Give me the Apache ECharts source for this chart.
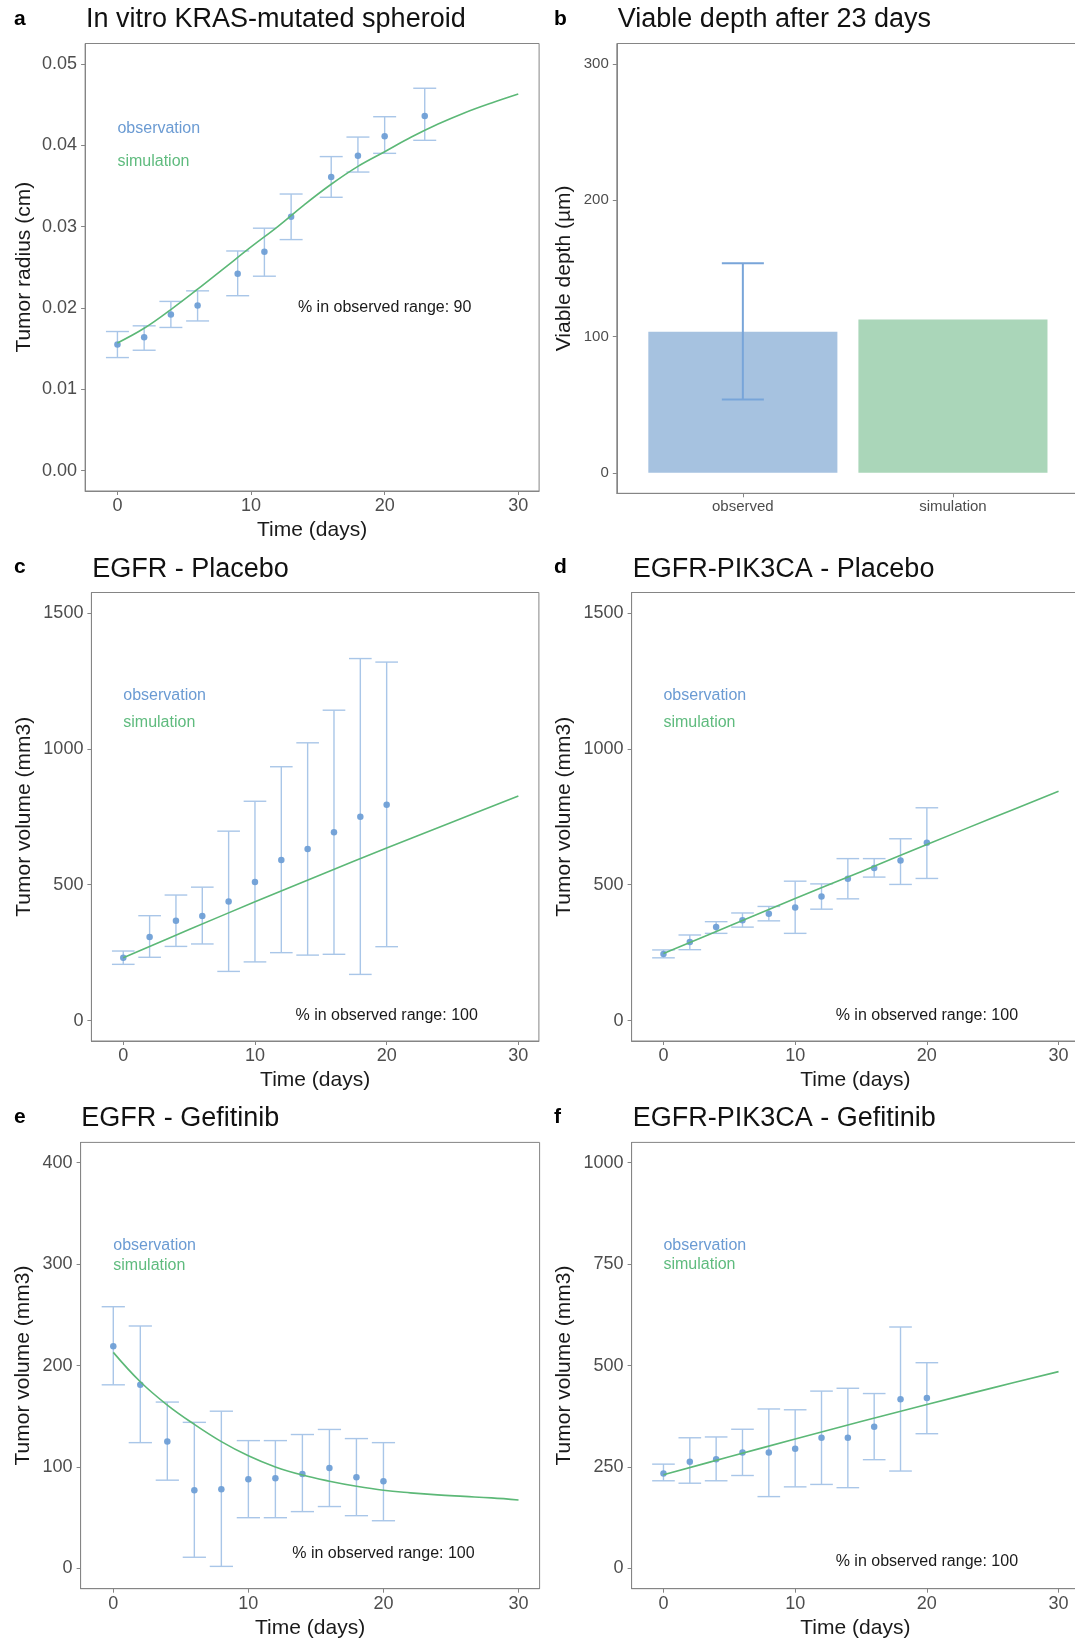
<!DOCTYPE html>
<html>
<head>
<meta charset="utf-8">
<script src="https://cdn.jsdelivr.net/npm/echarts@6/dist/echarts.min.js"></script>
<style>
  html, body { margin: 0; padding: 0; background: #ffffff; overflow: hidden; }
  /* the right-hand panels run a little past the page edge, so the canvas is wider than the page */
  #chart { width: 1095px; height: 1641px; }
</style>
</head>
<body>
<div id="chart"></div>
<script>
// ---------- data ----------
// a: in vitro KRAS-mutated spheroid radius (cm)
const daysA = [0, 2, 4, 6, 9, 11, 13, 16, 18, 20, 23];
const obsA  = [0.0155, 0.0164, 0.0192, 0.0203, 0.0242, 0.0269, 0.0312, 0.0361, 0.0387, 0.0411, 0.0436];
const loA   = [0.0139, 0.0148, 0.0176, 0.0184, 0.0215, 0.0239, 0.0284, 0.0336, 0.0367, 0.0390, 0.0406];
const hiA   = [0.0171, 0.0178, 0.0208, 0.0221, 0.0270, 0.0298, 0.0340, 0.0386, 0.0410, 0.0435, 0.0470];
const simDaysA = [0, 2, 4, 6, 8, 10, 12, 14, 16, 18, 20, 22, 24, 26, 28, 30];
const simA     = [0.0157, 0.0175, 0.0198, 0.0223, 0.0249, 0.0275, 0.0300, 0.0327, 0.0352, 0.0374, 0.0392, 0.0410, 0.0426, 0.0440, 0.0452, 0.0463];

// b: viable depth after 23 days (µm)
const depthCategories = ['observed', 'simulation'];
const depthValues     = [103.5, 112.6];
const depthObsLo      = 53.8;
const depthObsHi      = 153.8;

// c-f: xenograft tumour volume (mm3)
const daysXeno = [0, 2, 4, 6, 8, 10, 12, 14, 16, 18, 20];

const obsC = [231, 308, 367, 385, 438, 510, 591, 631, 693, 750, 794];
const loC  = [207, 233, 273, 282, 181, 216, 250, 241, 244, 170, 272];
const hiC  = [256, 386, 462, 491, 697, 807, 934, 1022, 1142, 1332, 1319];
const simDaysC = [0, 5, 10, 15, 20, 25, 30];
const simC     = [231, 335, 437, 537, 635, 731, 826];

const obsD = [245, 289, 344, 369, 393, 416, 457, 522, 561, 589, 654];
const loD  = [231, 261, 321, 344, 367, 321, 410, 448, 528, 501, 523];
const hiD  = [260, 315, 364, 396, 420, 513, 503, 596, 596, 669, 783];
const simDaysD = [0, 5, 10, 15, 20, 25, 30];
const simD     = [247, 348, 449, 548, 648, 746, 844];

const obsE = [219, 181, 125, 77, 78, 88, 89, 93, 99, 90, 86];
const loE  = [181, 124, 87, 11, 2, 50, 50, 56, 61, 52, 47];
const hiE  = [258, 239, 164, 144, 155, 126, 126, 132, 137, 128, 124];
const simDaysE = [0, 2, 4, 6, 8, 10, 12, 14, 16, 18, 20, 22, 24, 26, 28, 30];
const simE     = [213, 184, 161, 142, 125, 111, 100, 92, 86, 81, 77, 74.5, 72.5, 71, 69.5, 67.5];

const obsF = [234, 263, 269, 286, 286, 295, 322, 322, 349, 417, 420];
const loF  = [216, 210, 216, 229, 177, 201, 207, 199, 268, 240, 332];
const hiF  = [257, 322, 324, 343, 393, 391, 437, 444, 431, 595, 507];
const simDaysF = [0, 5, 10, 15, 20, 25, 30];
const simF     = [231, 275, 319, 362, 404, 445, 485];

const timeTicks = [0, 10, 20, 30];
const radiusTicks = [0, 0.01, 0.02, 0.03, 0.04, 0.05];
const depthTicks = [0, 100, 200, 300];
const placeboTicks = [0, 500, 1000, 1500];
const gefEgfrTicks = [0, 100, 200, 300, 400];
const gefPikTicks = [0, 250, 500, 750, 1000];

const inRangeA = 90, inRangeC = 100, inRangeD = 100, inRangeE = 100, inRangeF = 100;

// ---------- styling ----------
const FONT = "'Liberation Sans', Arial, Helvetica, sans-serif";
const OBS_BLUE = '#6f9fd6';
const BAR_BLUE = '#a9c6e8';
const SIM_GREEN = '#5cb877';
const FRAME = '#858585';
const TICK_TEXT = '#4d4d4d';
const CAP = 0.86;

const grids = [], xAxes = [], yAxes = [], series = [];

function addPanel(cfg) {
  const i = grids.length;
  grids.push({
    left: cfg.left, top: cfg.top, width: cfg.width, height: cfg.height,
    show: true, borderColor: FRAME, borderWidth: 1, containLabel: false
  });
  xAxes.push({
    gridIndex: i, type: 'value', min: cfg.xMin, max: cfg.xMax,
    name: cfg.xName, nameLocation: 'middle', nameGap: cfg.xNameGap, nameMoveOverlap: false,
    nameTextStyle: { fontSize: 21, color: '#1a1a1a', fontFamily: FONT },
    axisLine: { show: true, onZero: false, lineStyle: { color: FRAME, width: 1 } },
    axisTick: { show: true, length: 4, customValues: cfg.xTicks, lineStyle: { color: FRAME } },
    axisLabel: { customValues: cfg.xTicks, fontSize: cfg.tickFont, color: TICK_TEXT, margin: 6,
                 fontFamily: FONT, formatter: cfg.xFormat || (v => String(v)) },
    splitLine: { show: false }
  });
  yAxes.push({
    gridIndex: i, type: 'value', min: cfg.yMin, max: cfg.yMax,
    name: cfg.yName, nameLocation: 'middle', nameGap: cfg.yNameGap, nameRotate: 90, nameMoveOverlap: false,
    nameTextStyle: { fontSize: 21, color: '#1a1a1a', fontFamily: FONT },
    axisLine: { show: true, onZero: false, lineStyle: { color: FRAME, width: 1 } },
    axisTick: { show: true, length: 4, customValues: cfg.yTicks, lineStyle: { color: FRAME } },
    axisLabel: { customValues: cfg.yTicks, fontSize: cfg.tickFont, color: TICK_TEXT, margin: 8,
                 fontFamily: FONT, formatter: cfg.yFormat || (v => String(v)) },
    splitLine: { show: false }
  });
  return i;
}

function errorBars(i, xs, lo, hi, halfWidth, color, width) {
  return {
    type: 'custom', xAxisIndex: i, yAxisIndex: i, z: 2, silent: true,
    data: xs.map((x, k) => [x, lo[k], hi[k]]),
    encode: { x: 0, y: [1, 2] },
    renderItem: function (params, api) {
      const x = api.value(0), l = api.value(1), h = api.value(2);
      const top = api.coord([x, h]), bot = api.coord([x, l]);
      const tl = api.coord([x - halfWidth, h]), tr = api.coord([x + halfWidth, h]);
      const bl = api.coord([x - halfWidth, l]), br = api.coord([x + halfWidth, l]);
      const st = { stroke: color, lineWidth: width };
      return { type: 'group', children: [
        { type: 'line', shape: { x1: top[0], y1: top[1], x2: bot[0], y2: bot[1] }, style: st },
        { type: 'line', shape: { x1: tl[0], y1: tl[1], x2: tr[0], y2: tr[1] }, style: st },
        { type: 'line', shape: { x1: bl[0], y1: bl[1], x2: br[0], y2: br[1] }, style: st }
      ] };
    }
  };
}

function textMark(i, x, y, text, color, align) {
  return {
    type: 'custom', xAxisIndex: i, yAxisIndex: i, z: 5, silent: true,
    data: [[x, y]], encode: { x: 0, y: 1 }, clip: false,
    renderItem: function (params, api) {
      const p = api.coord([api.value(0), api.value(1)]);
      return { type: 'text', x: p[0], y: p[1],
        style: { text: text, fill: color, font: '16px ' + FONT, align: align, verticalAlign: 'middle' } };
    }
  };
}

function linePanel(cfg, days, obs, lo, hi, simDays, sim, inRange, labels) {
  const i = addPanel(cfg);
  series.push(errorBars(i, days, lo, hi, CAP, BAR_BLUE, 1.4));
  series.push({
    type: 'scatter', xAxisIndex: i, yAxisIndex: i, z: 3, symbolSize: 6.5,
    itemStyle: { color: OBS_BLUE, opacity: 0.95 },
    data: days.map((d, k) => [d, obs[k]])
  });
  series.push({
    type: 'line', xAxisIndex: i, yAxisIndex: i, z: 4, smooth: 0.4, showSymbol: false,
    lineStyle: { color: SIM_GREEN, width: 1.6 },
    data: simDays.map((d, k) => [d, sim[k]])
  });
  series.push(textMark(i, labels.obs[0], labels.obs[1], 'observation', '#6b9bd3', 'left'));
  series.push(textMark(i, labels.sim[0], labels.sim[1], 'simulation', '#5fbb7e', 'left'));
  series.push(textMark(i, labels.pct[0], labels.pct[1], '% in observed range: ' + inRange, '#1a1a1a', 'center'));
}

const X_MIN = -2.42, X_MAX = 31.56;
const X_NAME_GAP = 29;

// a
linePanel({ left: 85.1, top: 43.5, width: 454, height: 447.5, xMin: X_MIN, xMax: X_MAX,
            yMin: -0.0025, yMax: 0.0525, xTicks: timeTicks, yTicks: radiusTicks, tickFont: 18,
            xName: 'Time (days)', yName: 'Tumor radius (cm)', xNameGap: X_NAME_GAP, yNameGap: 50,
            yFormat: v => v.toFixed(2) },
          daysA, obsA, loA, hiA, simDaysA, simA, inRangeA,
          { obs: [0, 0.042], sim: [0, 0.038], pct: [20, 0.020] });

// c
linePanel({ left: 91.4, top: 592.5, width: 447.5, height: 448.5, xMin: X_MIN, xMax: X_MAX,
            yMin: -75, yMax: 1575, xTicks: timeTicks, yTicks: placeboTicks, tickFont: 18,
            xName: 'Time (days)', yName: 'Tumor volume (mm3)', xNameGap: X_NAME_GAP, yNameGap: 57 },
          daysXeno, obsC, loC, hiC, simDaysC, simC, inRangeC,
          { obs: [0, 1195], sim: [0, 1095], pct: [20, 20] });

// d
linePanel({ left: 631.6, top: 592.5, width: 447.5, height: 448.5, xMin: X_MIN, xMax: X_MAX,
            yMin: -75, yMax: 1575, xTicks: timeTicks, yTicks: placeboTicks, tickFont: 18,
            xName: 'Time (days)', yName: 'Tumor volume (mm3)', xNameGap: X_NAME_GAP, yNameGap: 57 },
          daysXeno, obsD, loD, hiD, simDaysD, simD, inRangeD,
          { obs: [0, 1195], sim: [0, 1095], pct: [20, 20] });

// e
linePanel({ left: 80.6, top: 1142.4, width: 459, height: 446.3, xMin: X_MIN, xMax: X_MAX,
            yMin: -20, yMax: 420, xTicks: timeTicks, yTicks: gefEgfrTicks, tickFont: 18,
            xName: 'Time (days)', yName: 'Tumor volume (mm3)', xNameGap: X_NAME_GAP, yNameGap: 47 },
          daysXeno, obsE, loE, hiE, simDaysE, simE, inRangeE,
          { obs: [0, 318], sim: [0, 299], pct: [20, 15] });

// f
linePanel({ left: 631.6, top: 1142.4, width: 447.5, height: 446.3, xMin: X_MIN, xMax: X_MAX,
            yMin: -50, yMax: 1050, xTicks: timeTicks, yTicks: gefPikTicks, tickFont: 18,
            xName: 'Time (days)', yName: 'Tumor volume (mm3)', xNameGap: X_NAME_GAP, yNameGap: 57 },
          daysXeno, obsF, loF, hiF, simDaysF, simF, inRangeF,
          { obs: [0, 796], sim: [0, 748], pct: [20, 16] });

// b: bar panel on a numeric band scale (categories at 1 and 2)
const bIdx = addPanel({ left: 616.8, top: 43.5, width: 462.2, height: 449.8, xMin: 0.4, xMax: 2.6,
            yMin: -15, yMax: 315, xTicks: [1, 2], yTicks: depthTicks, tickFont: 15,
            xName: '', yName: 'Viable depth (µm)', xNameGap: X_NAME_GAP, yNameGap: 42,
            xFormat: v => depthCategories[Math.round(v) - 1] || '' });
const barFills = ['#a6c2e0', '#aad6b9'];
series.push({
  type: 'custom', xAxisIndex: bIdx, yAxisIndex: bIdx, z: 2, silent: true,
  data: depthValues.map((v, k) => [k + 1, v]),
  encode: { x: 0, y: 1 },
  renderItem: function (params, api) {
    const x = api.value(0), v = api.value(1);
    const a = api.coord([x - 0.45, v]), b = api.coord([x + 0.45, 0]);
    return { type: 'rect', shape: { x: a[0], y: a[1], width: b[0] - a[0], height: b[1] - a[1] },
             style: { fill: barFills[params.dataIndex] } };
  }
});
series.push(errorBars(bIdx, [1], [depthObsLo], [depthObsHi], 0.1, '#78a5d9', 2));

// panel letters and titles
const letters = [
  ['a', 14, 19.5], ['b', 554, 19.5], ['c', 14, 567], ['d', 554, 567], ['e', 14, 1117.3], ['f', 554, 1117.3]
];
const titles = [
  ['In vitro KRAS-mutated spheroid', 86, 19.2],
  ['Viable depth after 23 days', 617.8, 19.2],
  ['EGFR - Placebo', 92.3, 569.3],
  ['EGFR-PIK3CA - Placebo', 632.8, 569.3],
  ['EGFR - Gefitinib', 81.3, 1119],
  ['EGFR-PIK3CA - Gefitinib', 632.8, 1119]
];
const graphic = [];
letters.forEach(([t, x, y]) => graphic.push({ type: 'text', x: x, y: y,
  style: { text: t, fill: '#000000', font: 'bold 21px ' + FONT, align: 'left', verticalAlign: 'middle' } }));
titles.forEach(([t, x, y]) => graphic.push({ type: 'text', x: x, y: y,
  style: { text: t, fill: '#111111', font: '27px ' + FONT, align: 'left', verticalAlign: 'middle' } }));

const chart = echarts.init(document.getElementById('chart'), null, { renderer: 'canvas' });
chart.setOption({
  animation: false,
  backgroundColor: '#ffffff',
  textStyle: { fontFamily: FONT },
  grid: grids, xAxis: xAxes, yAxis: yAxes, series: series, graphic: graphic
});
</script>
</body>
</html>
